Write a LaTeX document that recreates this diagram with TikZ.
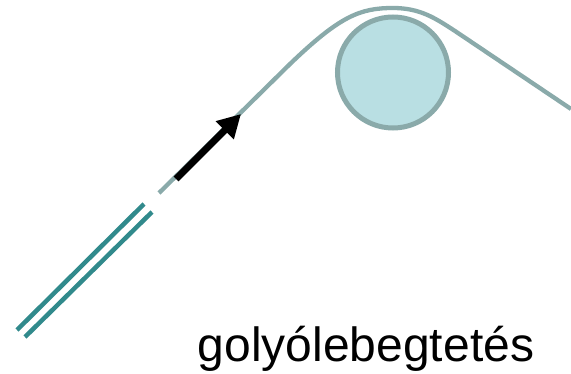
\documentclass[tikz,border=0pt]{standalone}
\usepackage{fontspec}
\setmainfont{Liberation Sans}
\usetikzlibrary{arrows.meta}
\definecolor{tealline}{HTML}{318A8C}
\definecolor{grayline}{HTML}{8AAAAA}
\definecolor{ballfill}{HTML}{B9DFE3}
\begin{document}
\begin{tikzpicture}[x=1pt,y=-1pt,
  tube/.style={draw=tealline,line width=4.5pt},
  stream/.style={draw=grayline,line width=4.3pt},
  ballstyle/.style={circle,draw=grayline,fill=ballfill,line width=5pt,minimum size=111pt,inner sep=0pt},
  flow/.style={draw=black,line width=7pt,-{Triangle[length=23pt,width=24pt]}},
  caption/.style={font=\fontsize{48}{50}\selectfont,anchor=base,inner sep=0pt}]
\useasboundingbox (0,0) rectangle (571,374);
% tube (two parallel lines)
\coordinate (t1a) at (17,330); \coordinate (t1b) at (144,204);
\coordinate (t2a) at (25,337); \coordinate (t2b) at (152,212);
\draw[tube] (t1a) -- (t1b);
\draw[tube] (t2a) -- (t2b);
% ball
\node[ballstyle] (ball) at (393,72.5) {};
% air stream
\coordinate (s0) at (159,193);
\coordinate (s1) at (290,64);
\coordinate (top) at (393,8);
\coordinate (s2) at (455,31);
\coordinate (s3) at (571,109);
\draw[stream] (s0) -- (s1) .. controls (340,16) and (360,8) .. (top)
  .. controls (420,8) and (435,18) .. (s2) -- (s3);
% arrow
\coordinate (a0) at (176,179);
\coordinate (a1) at (241,114);
\draw[flow] (a0) -- (a1);
% caption
\node[caption] (lbl) at (366,362) {golyólebegtetés};
\end{tikzpicture}
\end{document}
